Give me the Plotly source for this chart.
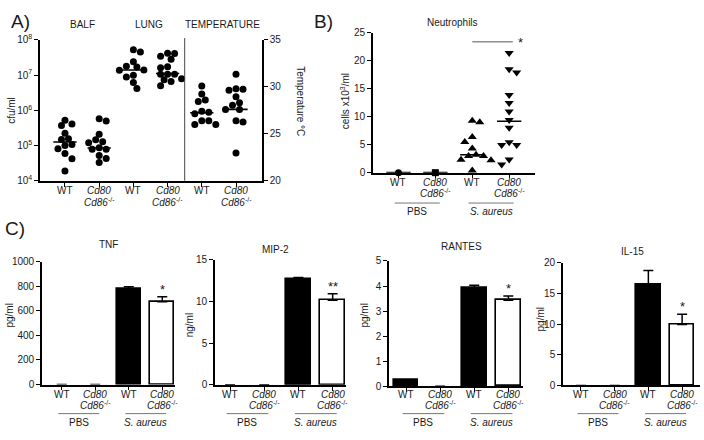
import numpy as np
import plotly.graph_objects as go

W, H = 704, 440
FONT = "Liberation Sans, Arial, sans-serif"
TXT = "#1a1a1a"

# ---------------- data ----------------
# Panel A (cfu/ml, log) and temperature
a_categories = ["WT", "Cd80|Cd86", "WT", "Cd80|Cd86", "WT", "Cd80|Cd86"]
a_headers = ["BALF", "LUNG", "TEMPERATURE"]
balf_wt = [525000, 407000, 372000, 224000, 155000, 148000, 107000, 100000, 81000, 59000, 42000, 19000]
balf_ko = [575000, 501000, 209000, 145000, 129000, 120000, 87000, 79000, 79000, 52500, 42700, 33100]
lung_wt = [5.25e7, 4.57e7, 2.4e7, 1.78e7, 1.7e7, 1.41e7, 1.38e7, 1.0e7, 8.9e6, 6.2e6, 4.2e6]
lung_ko = [4.2e7, 4.1e7, 3.47e7, 2.82e7, 1.74e7, 1.62e7, 1.07e7, 1.07e7, 1.07e7, 7.9e6, 7.4e6, 6.6e6, 5.0e6]
temp_wt = [30.1, 29.25, 28.6, 28.45, 27.4, 27.3, 27.15, 26.4, 26.4, 26.0, 26.0]
temp_ko = [31.35, 29.8, 29.75, 29.65, 28.95, 28.3, 28.05, 27.6, 27.6, 26.4, 26.25, 22.95]
a_medians_cfu = [126000, 85000, 1.4e7, 1.12e7]
a_medians_temp = [27.25, 27.6]

# Panel B (neutrophils, cells x10^3/ml)
b_categories = ["WT", "Cd80|Cd86", "WT", "Cd80|Cd86"]
neu_pbs_wt = [0.0]
neu_pbs_ko = [0.0]
neu_sa_wt = [9.0, 9.3, 6.4, 5.5, 4.3, 3.2, 3.0, 3.0, 2.2, 2.3, 0.4]
neu_sa_ko = [21.4, 18.5, 17.9, 13.9, 12.45, 10.95, 9.4, 8.05, 5.45, 4.95, 4.95, 2.35, 1.45]
neu_medians = [0.0, 0.0, 3.2, 9.2]

# Panel C (cytokines: mean, SEM)
cyto_names = ["TNF", "MIP-2", "RANTES", "IL-15"]
cyto_units = ["pg/ml", "ng/ml", "pg/ml", "pg/ml"]
tnf_mean = [0, 0, 778, 675]
tnf_err = [None, None, 20, 40]
mip2_mean = [0, 0, 12.7, 10.15]
mip2_err = [None, None, 0.2, 0.8]
rantes_mean = [0.25, 0, 3.93, 3.43]
rantes_err = [None, None, 0.1, 0.17]
il15_mean = [0, 0, 16.5, 9.9]
il15_err = [None, None, 2.2, 1.7]
cyto_stars = ["*", "**", "*", "*"]
cyto_ymax = [1000, 15, 5, 20]
cyto_dtick = [200, 5, 1, 5]
groups = ["PBS", "<i>S. aureus</i>"]

# ---------------- layout geometry (pixels) ----------------
def px2dom_x(a, b):
    return [a / W, b / W]

def px2dom_y(top, bottom):
    return [1 - bottom / H, 1 - top / H]

A_X, A_Y = (40, 262), (34, 179)
A_XR = [-0.73, 5.76]
B_X, B_Y = (373, 535), (26.7, 170.7)
B_XR = [-0.69, 3.70]
C_X = [(42, 175), (215, 346), (389, 523), (563, 700)]
C_Y = [(262.7, 389), (260.7, 389.3), (261.7, 390.7), (263.3, 390)]
C_XR = [[-0.59, 3.38], [-0.44, 3.39], [-0.5, 3.43], [-0.53, 3.53]]


def swarm(vals, ppu_y, ppu_x, diam, log=False):
    v = np.asarray(vals, float)
    ys = (np.log10(v) if log else v) * ppu_y
    order = np.argsort(-ys, kind="stable")
    placed = []
    offs = np.zeros(len(v))
    steps = [k * diam * 0.5 for k in range(0, 12)]
    flip = 1
    for i in order:
        done = False
        for s in steps:
            cands = [0.0] if s == 0 else [flip * s, -flip * s]
            for c in cands:
                if all((c - px) ** 2 + (ys[i] - py) ** 2 >= (0.92 * diam) ** 2 for px, py in placed):
                    offs[i] = c
                    placed.append((c, ys[i]))
                    if c != 0:
                        flip = -flip
                    done = True
                    break
            if done:
                break
    return offs / ppu_x


fig = go.Figure()

axis_common = dict(showline=True, linecolor="black", linewidth=1.6, ticks="outside",
                   ticklen=4, tickwidth=1.4, tickcolor="black", showgrid=False,
                   zeroline=False, tickfont=dict(family=FONT, size=10, color=TXT),
                   fixedrange=True)

# ---------------- Panel A ----------------
a_ppx = (A_X[1] - A_X[0]) / (A_XR[1] - A_XR[0])
a_ppy_log = (A_Y[1] - A_Y[0]) / 4.0
a_ppy_t = (A_Y[1] - A_Y[0]) / 15.0
D = 7
cfu_sets = [balf_wt, balf_ko, lung_wt, lung_ko]
for i, vals in enumerate(cfu_sets):
    off = swarm(vals, a_ppy_log, a_ppx, D, log=True)
    fig.add_trace(go.Scatter(x=i + off, y=vals, mode="markers", xaxis="x", yaxis="y",
                             marker=dict(symbol="circle", size=D, color="black"),
                             showlegend=False, cliponaxis=False))
    m = a_medians_cfu[i]
    fig.add_trace(go.Scatter(x=[i - 0.34, i + 0.34], y=[m, m], mode="lines", xaxis="x", yaxis="y",
                             line=dict(color="black", width=1.6), showlegend=False))
for j, vals in enumerate([temp_wt, temp_ko]):
    i = 4 + j
    off = swarm(vals, a_ppy_t, a_ppx, D)
    fig.add_trace(go.Scatter(x=i + off, y=vals, mode="markers", xaxis="x", yaxis="y2",
                             marker=dict(symbol="circle", size=D, color="black"),
                             showlegend=False, cliponaxis=False))
    m = a_medians_temp[j]
    fig.add_trace(go.Scatter(x=[i - 0.34, i + 0.34], y=[m, m], mode="lines", xaxis="x", yaxis="y2",
                             line=dict(color="black", width=1.6), showlegend=False))

layout = dict(
    xaxis=dict(domain=px2dom_x(*A_X), anchor="y", range=A_XR, tickvals=list(range(6)),
               showticklabels=False, **axis_common),
    yaxis=dict(domain=px2dom_y(*A_Y), anchor="x", type="log", range=[4, 8],
               tickvals=[1e4, 1e5, 1e6, 1e7, 1e8],
               ticktext=["10<sup>4</sup>", "10<sup>5</sup>", "10<sup>6</sup>", "10<sup>7</sup>", "10<sup>8</sup>"],
               **axis_common),
    yaxis2=dict(overlaying="y", side="right", anchor="x", range=[20, 35],
                tickvals=[20, 25, 30, 35], **axis_common),
)

# ---------------- Panel B ----------------
b_ppx = (B_X[1] - B_X[0]) / (B_XR[1] - B_XR[0])
b_ppy = (B_Y[1] - B_Y[0]) / 25.0
b_sets = [neu_pbs_wt, neu_pbs_ko, neu_sa_wt, neu_sa_ko]
b_symbols = ["circle", "square", "triangle-up", "triangle-down"]
for i, vals in enumerate(b_sets):
    m = neu_medians[i]
    fig.add_trace(go.Scatter(x=[i - 0.33, i + 0.33], y=[m, m], mode="lines", xaxis="x2", yaxis="y3",
                             line=dict(color="black", width=1.6), showlegend=False, cliponaxis=False))
    off = swarm(vals, b_ppy, b_ppx, 7.5)
    fig.add_trace(go.Scatter(x=i + off, y=vals, mode="markers", xaxis="x2", yaxis="y3",
                             marker=dict(symbol=b_symbols[i], size=8 if i >= 2 else 7, color="black"),
                             showlegend=False, cliponaxis=False))

layout["xaxis2"] = dict(domain=px2dom_x(*B_X), anchor="y3", range=B_XR, tickvals=list(range(4)),
                        showticklabels=False, **axis_common)
layout["yaxis3"] = dict(domain=px2dom_y(*B_Y), anchor="x2", range=[0, 25], dtick=5, **axis_common)

# ---------------- Panel C ----------------
c_means = [tnf_mean, mip2_mean, rantes_mean, il15_mean]
c_errs = [tnf_err, mip2_err, rantes_err, il15_err]
for k in range(4):
    xa = f"x{k + 3}"
    ya = f"y{k + 4}"
    fig.add_trace(go.Bar(
        x=list(range(4)), y=c_means[k], xaxis=xa, yaxis=ya, width=0.72,
        marker=dict(color=["black", "white", "black", "white"],
                    line=dict(color="black", width=[1.6 if v > 0 else 0 for v in c_means[k]])),
        error_y=dict(type="data", array=c_errs[k], arrayminus=[None, None, 0, 0],
                     symmetric=False, color="black", thickness=1.5, width=5, visible=True),
        showlegend=False, cliponaxis=False))
    layout[f"xaxis{k + 3}"] = dict(domain=px2dom_x(*C_X[k]), anchor=ya, range=C_XR[k],
                                   tickvals=list(range(4)), showticklabels=False, **axis_common)
    layout[f"yaxis{k + 4}"] = dict(domain=px2dom_y(*C_Y[k]), anchor=xa, range=[0, cyto_ymax[k]],
                                   tick0=0, dtick=cyto_dtick[k], **axis_common)

# ---------------- annotations & shapes ----------------
ann = []
shapes = []

def ptext(x, y, text, size=10, angle=0, **kw):
    ann.append(dict(x=x / W, y=1 - y / H, xref="paper", yref="paper", text=text, showarrow=False,
                    textangle=angle, xanchor="center", yanchor="middle",
                    font=dict(family=FONT, size=size, color=TXT), **kw))

def cat_labels(xref, labels, y1, y2):
    for i, lab in enumerate(labels):
        parts = lab.split("|")
        lines = ["WT"] if len(parts) == 1 else [f"<i>{parts[0]}</i>", f"<i>{parts[1]}</i><sup>-/-</sup>"]
        for ln, yy in zip(lines, [y1, y2]):
            ann.append(dict(x=i, y=1 - (yy + 6) / H, xref=xref, yref="paper", text=ln,
                            showarrow=False, xanchor="center", yanchor="bottom",
                            font=dict(family=FONT, size=10, color=TXT)))

# panel letters
ptext(20, 15, "A)", size=19)
ptext(323, 15, "B)", size=19)
ptext(15, 228, "C)", size=19)

# panel A headers and axis titles
for h, x in zip(a_headers, [82, 149, 222]):
    ptext(x, 18, h, size=10)
ptext(12, 107, "cfu/ml", size=10, angle=-90)
ptext(301, 97, "Temperature °C", size=10, angle=90)
shapes.append(dict(type="line", xref="x", yref="paper", x0=3.5, x1=3.5,
                   y0=1 - A_Y[1] / H, y1=1 - 32 / H, line=dict(color="#444", width=1)))
cat_labels("x", a_categories, 191, 203)

# panel B
ptext(452, 16, "Neutrophils", size=10)
ptext(345, 97, "cells x10<sup>3</sup>/ml", size=10, angle=-90)
sig_y = 23.4
shapes.append(dict(type="line", xref="x2", yref="y3", x0=2.0, x1=3.1, y0=sig_y, y1=sig_y,
                   line=dict(color="#555", width=1)))
ann.append(dict(x=3.3, y=sig_y, xref="x2", yref="y3", text="*", showarrow=False,
                yshift=-1, font=dict(family=FONT, size=13, color=TXT)))
cat_labels("x2", b_categories, 183, 194)

def group_labels(xref, line_y, text_y):
    for g, (a, b) in zip(groups, [(-0.1, 1.12), (1.9, 3.12)]):
        shapes.append(dict(type="line", xref=xref, yref="paper", x0=a, x1=b,
                           y0=1 - line_y / H, y1=1 - line_y / H, line=dict(color="#777", width=1)))
        ann.append(dict(x=(a + b) / 2, y=1 - text_y / H, xref=xref, yref="paper", text=g,
                        showarrow=False, xanchor="center", yanchor="middle",
                        font=dict(family=FONT, size=10, color=TXT)))

group_labels("x2", 202, 211)

# panel C titles and units
c_title_pos = [(109, 245), (275, 250), (461, 247), (632, 252)]
c_unit_pos = [(10, 318), (189, 328), (365, 318), (540, 322)]
for k in range(4):
    ptext(*c_title_pos[k], cyto_names[k], size=10)
    ptext(*c_unit_pos[k], cyto_units[k], size=10, angle=-90)
    cat_labels(f"x{k + 3}", b_categories, 401, 412)
    group_labels(f"x{k + 3}", 419, 428)
    top = c_means[k][3] + (c_errs[k][3] or 0)
    ann.append(dict(x=3, y=top, xref=f"x{k + 3}", yref=f"y{k + 4}", text=cyto_stars[k],
                    showarrow=False, yanchor="bottom", yshift=-2,
                    font=dict(family=FONT, size=13, color=TXT)))

fig.update_layout(**layout)
fig.update_layout(width=W, height=H, autosize=False, margin=dict(l=0, r=0, t=0, b=0),
                  paper_bgcolor="white", plot_bgcolor="white", annotations=ann, shapes=shapes,
                  showlegend=False, bargap=0, font=dict(family=FONT, color=TXT))
fig.write_html("out.html", config={"displayModeBar": False},
               post_script="document.body.style.margin='0';document.body.style.overflow='hidden';")
